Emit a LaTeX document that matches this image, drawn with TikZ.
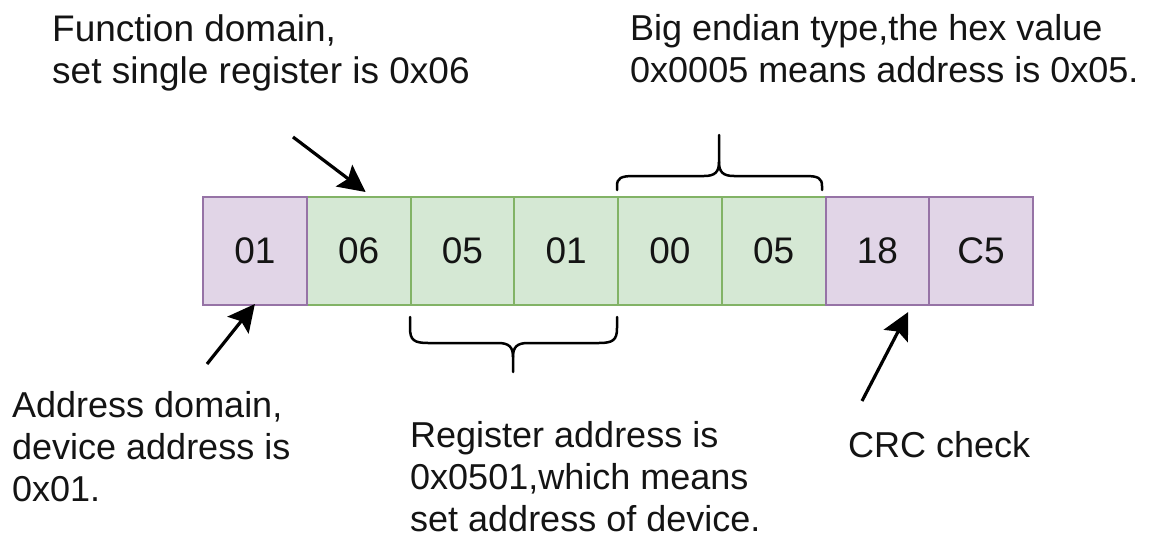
\documentclass[tikz,border=0pt]{standalone}
\usepackage{fontspec}
\setmainfont{Liberation Sans}
\usetikzlibrary{arrows.meta}
\definecolor{purpfill}{HTML}{E1D5E7}
\definecolor{purpline}{HTML}{9673A6}
\definecolor{grfill}{HTML}{D5E8D4}
\definecolor{grline}{HTML}{82B366}
\definecolor{ink}{HTML}{141414}
\tikzset{
  cell/.style={rectangle, minimum width=103.75pt, minimum height=108pt,
    inner sep=0pt, line width=2pt, text=ink,
    font=\fontsize{37}{42}\selectfont},
  pcell/.style={cell, draw=purpline, fill=purpfill},
  gcell/.style={cell, draw=grline, fill=grfill},
  label/.style={anchor=north west, align=left, inner sep=0pt, text=ink,
    font=\fontsize{36}{42}\selectfont},
  arr/.style={line width=3.2pt, draw=black, -{Stealth[length=27pt,width=27pt,inset=5pt]}},
  brace/.style={line width=2.5pt, draw=black, line cap=round}
}
\begin{document}
\begin{tikzpicture}[x=1pt,y=-1pt]
\useasboundingbox (0,0) rectangle (1172,543);
\fill[white] (0,0) rectangle (1172,543);

% frame cells
\node[gcell] (c2) at (358.625,251) {06};
\node[gcell] (c3) at (462.375,251) {05};
\node[gcell] (c4) at (566.125,251) {01};
\node[gcell] (c5) at (669.875,251) {00};
\node[gcell] (c6) at (773.625,251) {05};
\node[pcell] (c1) at (254.875,251) {01};
\node[pcell] (c7) at (877.375,251) {18};
\node[pcell] (c8) at (981.125,251) {C5};

% labels
\node[label, font=\fontsize{37}{42}\selectfont] (lfun) at (52,14) {Function domain,\\set single register is 0x06};
\node[label] (lbig) at (630,14) {Big endian type,the hex value\\0x0005 means address is 0x05.};
\node[label] (ladr) at (12,391) {Address domain,\\device address is\\0x01.};
\node[label] (lreg) at (410,421) {Register address is\\0x0501,which means\\set address of device.};
\node[label] (lcrc) at (848,431) {CRC check};

% arrow ends
\coordinate (ftail) at (293,137);
\coordinate (ftip) at ([shift={(7,-4)}]c2.north);
\coordinate (atail) at (207,364);
\coordinate (atip) at ([yshift=2]c1.south);
\coordinate (ctail) at (862,401);
\coordinate (ctip) at ([shift={(-22,6)}]c7.south east);

\draw[arr] (ftail) -- (ftip);
\draw[arr] (atail) -- (atip);
\draw[arr] (ctail) -- (ctip);

% brace under the register address bytes
\draw[brace] (410,317) -- (410,328) .. controls (410,340) and (414,343) .. (428,343)
  -- (498,343) .. controls (509,343) and (513,347) .. (513,357) -- (513,372);
\draw[brace] (513,357) .. controls (513,347) and (517,343) .. (528,343)
  -- (599,343) .. controls (613,343) and (617,340) .. (617,328) -- (617,317);

% brace over the value bytes
\draw[brace] (617,190) -- (617,186) .. controls (617,178) and (621,176) .. (634,176)
  -- (704,176) .. controls (715,176) and (719,172) .. (719,162) -- (719,135);
\draw[brace] (719,162) .. controls (719,172) and (723,176) .. (734,176)
  -- (805,176) .. controls (818,176) and (822,178) .. (822,186) -- (822,190);
\end{tikzpicture}
\end{document}
